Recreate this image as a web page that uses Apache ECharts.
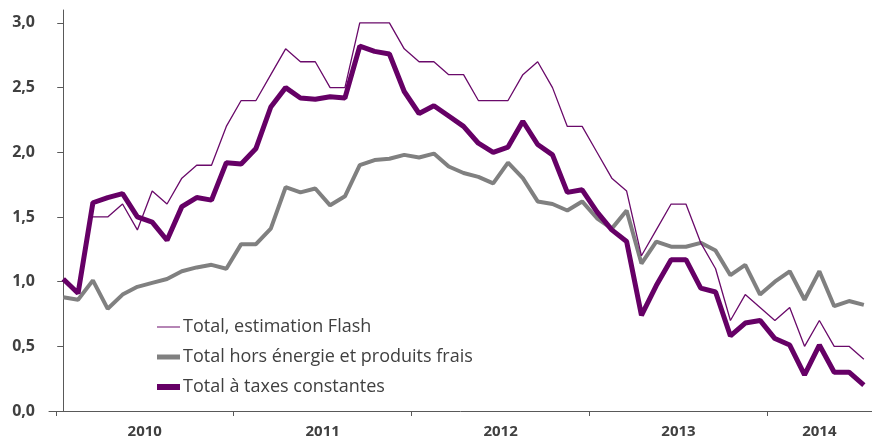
<!DOCTYPE html>
<html>
<head>
<meta charset="utf-8">
<script src="https://cdn.jsdelivr.net/npm/echarts@6/dist/echarts.min.js"></script>
<style>
  html, body { margin: 0; padding: 0; background: #fff; }
  #chart { width: 872px; height: 441px; }
</style>
</head>
<body>
<div id="chart"></div>
<script>
// mois : janvier 2010 -> juillet 2014
const firstYear = 2010
const monthCount = 55
const months = []
for (let i = 0; i < monthCount; i++) {
  const y = firstYear + Math.floor(i / 12)
  const m = (i % 12) + 1
  months.push(y + '-' + (m < 10 ? '0' + m : m))
}

const seriesNames = [
  'Total, estimation Flash',
  'Total hors énergie et produits frais',
  'Total à taxes constantes'
]

const flash = [null, null, 1.5, 1.5, 1.6, 1.4, 1.7, 1.6, 1.8, 1.9, 1.9, 2.2,
  2.4, 2.4, 2.6, 2.8, 2.7, 2.7, 2.5, 2.5, 3.0, 3.0, 3.0, 2.8,
  2.7, 2.7, 2.6, 2.6, 2.4, 2.4, 2.4, 2.6, 2.7, 2.5, 2.2, 2.2,
  2.0, 1.8, 1.7, 1.2, 1.4, 1.6, 1.6, 1.3, 1.1, 0.7, 0.9, 0.8,
  0.7, 0.8, 0.5, 0.7, 0.5, 0.5, 0.4]

const horsEnergie = [0.88, 0.86, 1.01, 0.79, 0.90, 0.96, 0.99, 1.02, 1.08, 1.11, 1.13, 1.10,
  1.29, 1.29, 1.41, 1.73, 1.69, 1.72, 1.59, 1.66, 1.90, 1.94, 1.95, 1.98,
  1.96, 1.99, 1.89, 1.84, 1.81, 1.76, 1.92, 1.80, 1.62, 1.60, 1.55, 1.62,
  1.49, 1.41, 1.55, 1.14, 1.31, 1.27, 1.27, 1.30, 1.24, 1.05, 1.13, 0.90,
  1.00, 1.08, 0.86, 1.08, 0.81, 0.85, 0.82]

const taxesConstantes = [1.02, 0.91, 1.61, 1.65, 1.68, 1.50, 1.46, 1.32, 1.58, 1.65, 1.63, 1.92,
  1.91, 2.03, 2.35, 2.50, 2.42, 2.41, 2.43, 2.42, 2.82, 2.78, 2.76, 2.47,
  2.30, 2.36, 2.28, 2.20, 2.07, 2.00, 2.04, 2.24, 2.06, 1.98, 1.69, 1.71,
  1.54, 1.40, 1.31, 0.74, 0.97, 1.17, 1.17, 0.95, 0.92, 0.58, 0.68, 0.70,
  0.56, 0.51, 0.28, 0.51, 0.30, 0.30, 0.20]

const yTicks = [0, 0.5, 1.0, 1.5, 2.0, 2.5, 3.0]

// positions (en index de mois) des changements d'année et du centre de chaque année
const yearBounds = []
const yearCenters = []
const yearLabels = {}
let start = 0
for (let i = 1; i <= monthCount; i++) {
  if (i === monthCount || months[i].slice(0, 4) !== months[i - 1].slice(0, 4)) {
    const c = (start + i - 1) / 2
    yearCenters.push(c)
    yearLabels[c] = months[start].slice(0, 4)
    yearBounds.push(start - 0.5)
    start = i
  }
}

const toPairs = arr => arr.map((v, i) => [i, v])

const chart = echarts.init(document.getElementById('chart'))
chart.setOption({
  animation: false,
  grid: { left: 49, right: 0, top: 10, bottom: 30 },
  legend: {
    orient: 'vertical',
    left: 157,
    top: 318,
    padding: 0,
    itemWidth: 23,
    itemHeight: 14,
    itemGap: 12,
    symbolKeepAspect: true,
    textStyle: { fontFamily: 'Open Sans', fontSize: 18, color: '#404040', padding: [0, 0, 0, -2] },
    data: [
      { name: seriesNames[0], icon: 'path://M0,0H23V1H0Z' },
      { name: seriesNames[1], icon: 'path://M0,0H23V5H0Z' },
      { name: seriesNames[2], icon: 'path://M0,0H23V6H0Z' }
    ]
  },
  xAxis: {
    type: 'value',
    min: -0.96,
    max: 54.55,
    splitLine: { show: false },
    axisLine: { show: true, lineStyle: { color: '#595959', width: 1 } },
    axisTick: { show: true, customValues: yearBounds, length: 5, lineStyle: { color: '#595959' } },
    axisLabel: {
      customValues: yearCenters,
      margin: 13,
      formatter: v => yearLabels[v] || '',
      fontFamily: 'Open Sans',
      fontWeight: 'bold',
      fontSize: 15,
      color: '#404040'
    }
  },
  yAxis: {
    type: 'value',
    min: 0,
    max: 3.1,
    splitLine: { show: false },
    axisLine: { show: true, lineStyle: { color: '#595959', width: 1 } },
    axisTick: { show: true, customValues: yTicks, length: 6, lineStyle: { color: '#595959' } },
    axisLabel: {
      customValues: yTicks,
      margin: 14,
      formatter: v => v.toFixed(1).replace('.', ','),
      fontFamily: 'Open Sans',
      fontWeight: 'bold',
      fontSize: 16,
      color: '#404040'
    }
  },
  series: [
    {
      name: seriesNames[0],
      type: 'line',
      data: toPairs(flash),
      symbol: 'none',
      lineStyle: { color: '#6a0a6a', width: 1.3 },
      itemStyle: { color: '#6a0a6a' },
      z: 3
    },
    {
      name: seriesNames[1],
      type: 'line',
      data: toPairs(horsEnergie),
      symbol: 'none',
      lineStyle: { color: '#808080', width: 4 },
      itemStyle: { color: '#808080' },
      z: 2
    },
    {
      name: seriesNames[2],
      type: 'line',
      data: toPairs(taxesConstantes),
      symbol: 'none',
      lineStyle: { color: '#660066', width: 5 },
      itemStyle: { color: '#660066' },
      z: 4
    }
  ]
})
</script>
</body>
</html>
